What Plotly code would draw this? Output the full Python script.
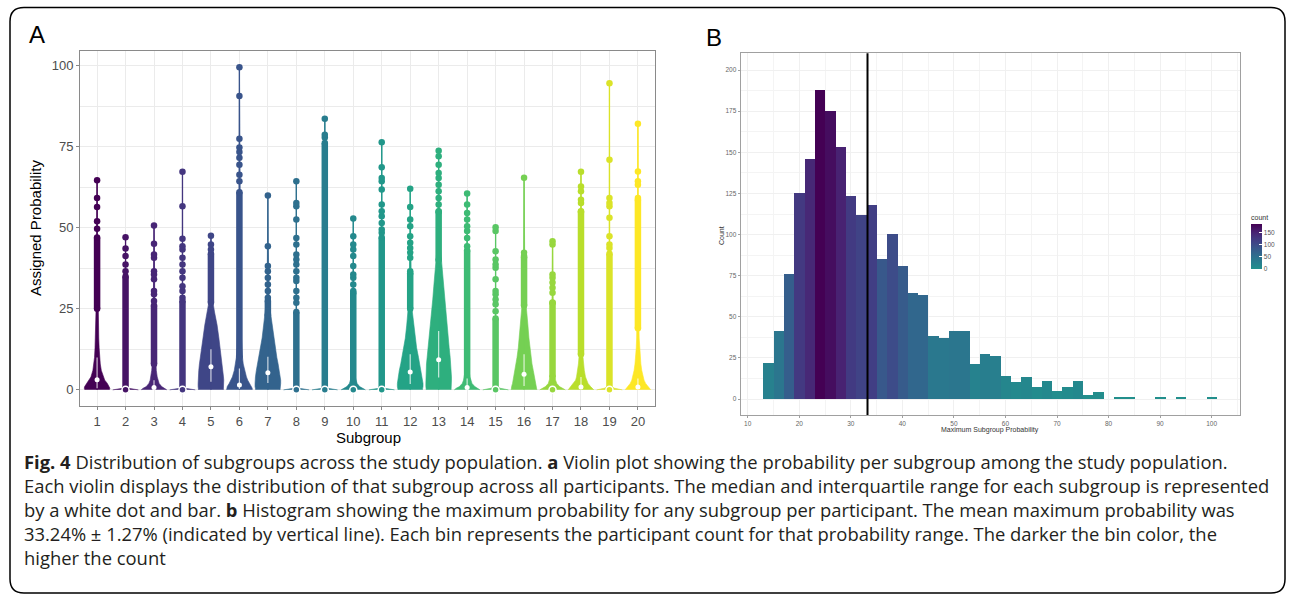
import plotly.graph_objects as go
from plotly.colors import sample_colorscale

W, H = 1290, 595

# ---------------- Panel A data ----------------
subgroups = list(range(1, 21))

# shared density levels (Assigned Probability) and relative half-widths per subgroup
prof_levels = [0, 0.5, 1, 2, 3, 4, 6, 8, 10, 13, 16, 20, 24, 28, 32, 36, 40, 45]
FLAT = [1.0, 0.2, 0.06, 0.04, 0.03, 0.03, 0.02, 0.02, 0.02, 0.02, 0.02, 0.02, 0.02, 0.02, 0.02, 0.02, 0.02, 0.02]
prof_widths = {
    1: [0.95, 1.0, 0.97, 0.8, 0.6, 0.48, 0.33, 0.25, 0.2, 0.16, 0.13, 0.1, 0.08, 0.06, 0.05, 0.04, 0.03, 0.02],
    2: FLAT,
    3: [1.0, 0.85, 0.6, 0.4, 0.3, 0.25, 0.18, 0.14, 0.12, 0.1, 0.08, 0.07, 0.06, 0.05, 0.04, 0.04, 0.03, 0.03],
    4: FLAT,
    5: [0.97, 1.0, 1.0, 1.0, 1.0, 0.98, 0.95, 0.9, 0.82, 0.72, 0.62, 0.48, 0.28, 0.12, 0.07, 0.05, 0.04, 0.03],
    6: [1.0, 1.0, 0.95, 0.8, 0.65, 0.55, 0.4, 0.3, 0.24, 0.19, 0.16, 0.13, 0.11, 0.09, 0.08, 0.07, 0.06, 0.05],
    7: [0.95, 1.0, 1.0, 1.0, 1.0, 0.97, 0.9, 0.8, 0.7, 0.56, 0.45, 0.33, 0.2, 0.1, 0.06, 0.05, 0.04, 0.03],
    8: FLAT,
    9: FLAT,
    10: [0.95, 0.7, 0.5, 0.3, 0.2, 0.15, 0.1, 0.08, 0.06, 0.05, 0.04, 0.04, 0.03, 0.03, 0.03, 0.02, 0.02, 0.02],
    11: FLAT,
    12: [0.95, 1.0, 1.0, 1.0, 0.97, 0.93, 0.85, 0.74, 0.65, 0.5, 0.38, 0.27, 0.17, 0.1, 0.07, 0.05, 0.04, 0.03],
    13: [0.97, 1.0, 1.0, 1.0, 1.0, 1.0, 0.98, 0.95, 0.9, 0.82, 0.74, 0.64, 0.55, 0.46, 0.38, 0.3, 0.22, 0.1],
    14: [1.0, 0.85, 0.6, 0.38, 0.28, 0.22, 0.15, 0.12, 0.1, 0.08, 0.07, 0.06, 0.05, 0.04, 0.04, 0.03, 0.03, 0.03],
    15: [1.0, 0.35, 0.12, 0.06, 0.04, 0.03, 0.03, 0.02, 0.02, 0.02, 0.02, 0.02, 0.02, 0.02, 0.02, 0.02, 0.02, 0.02],
    16: [1.0, 1.0, 0.97, 0.9, 0.85, 0.8, 0.72, 0.62, 0.55, 0.45, 0.38, 0.3, 0.23, 0.12, 0.07, 0.05, 0.04, 0.03],
    17: [1.0, 0.8, 0.55, 0.33, 0.24, 0.18, 0.12, 0.1, 0.08, 0.07, 0.06, 0.05, 0.04, 0.04, 0.03, 0.03, 0.03, 0.02],
    18: [1.0, 0.9, 0.75, 0.55, 0.42, 0.35, 0.26, 0.2, 0.16, 0.12, 0.1, 0.08, 0.07, 0.06, 0.05, 0.04, 0.04, 0.03],
    19: [1.0, 0.4, 0.15, 0.07, 0.05, 0.04, 0.03, 0.02, 0.02, 0.02, 0.02, 0.02, 0.02, 0.02, 0.02, 0.02, 0.02, 0.02],
    20: [1.0, 0.9, 0.78, 0.6, 0.48, 0.4, 0.3, 0.23, 0.18, 0.13, 0.1, 0.08, 0.06, 0.05, 0.04, 0.04, 0.03, 0.03],
}

# individual high values shown as dots
outlier_dots = {
    1: [49.7, 52.0, 56.4, 59.2, 64.7],
    2: [36.6, 38.7, 41.3, 43.6, 47.1],
    3: [27.4, 29.5, 30.5, 34.1, 35.6, 36.6, 40.8, 41.8, 45.1, 50.7],
    4: [28.4, 30.5, 32.0, 34.6, 36.6, 38.7, 40.8, 43.3, 44.3, 46.6, 56.7, 67.3],
    5: [43.3, 44.9, 47.6],
    6: [64.4, 66.4, 69.5, 71.6, 73.4, 74.8, 77.5, 90.7, 99.6],
    7: [28.4, 30.5, 32.5, 34.6, 36.6, 38.2, 44.3, 60.0],
    8: [26.9, 28.4, 30.5, 33.6, 34.6, 36.6, 38.7, 40.2, 41.8, 44.9, 46.9, 52.6, 56.7, 57.7, 64.4],
    9: [77.9, 78.7, 83.7],
    10: [30.5, 32.5, 34.6, 35.6, 38.2, 41.3, 43.3, 44.9, 47.4, 52.9],
    11: [48.5, 49.5, 51.5, 53.6, 55.1, 57.2, 61.8, 64.4, 65.4, 68.7, 76.4],
    12: [36.6, 40.8, 42.3, 43.8, 45.4, 47.4, 50.5, 52.6, 56.4, 62.1],
    13: [55.1, 57.2, 59.2, 61.3, 63.3, 65.4, 66.9, 69.5, 72.1, 73.8],
    14: [44.3, 46.9, 49.0, 50.5, 52.6, 54.6, 57.2, 60.6],
    15: [24.3, 26.4, 27.9, 29.5, 30.5, 34.1, 37.7, 38.7, 40.2, 42.8, 49.0, 50.2],
    16: [41.3, 42.3, 65.5],
    17: [26.9, 30.0, 31.5, 33.1, 34.6, 35.6, 44.9, 45.9],
    18: [55.1, 57.7, 58.7, 61.3, 62.8, 67.3],
    19: [43.8, 44.9, 47.4, 53.1, 56.7, 57.7, 59.2, 71.0, 94.6],
    20: [59.2, 63.3, 64.4, 67.4, 82.1],
}

# ranges where the dots merge into a solid column (low, high)
dense_runs = {
    1: (25, 47), 2: (0.5, 35), 3: (8, 26), 4: (0.5, 27.4), 5: (27, 42),
    6: (10, 61), 7: (23, 27.5), 8: (0.5, 24), 9: (0.5, 76.2), 10: (0.5, 30),
    11: (0.5, 47), 12: (25, 36), 13: (40, 55), 14: (3, 43), 15: (0.5, 22),
    16: (26, 41), 17: (4, 27), 18: (11, 55), 19: (0.5, 42), 20: (19, 58.7),
}

medians = [3.1, 0, 0.7, 0, 7.1, 1.5, 5.3, 0, 0, 0, 0, 5.5, 9.3, 0.7, 0, 4.8, 0, 0.9, 0, 0.9]
q1s = [0.5, 0, 0.1, 0, 2.5, 0.3, 2.1, 0, 0, 0, 0, 1.8, 3.8, 0.1, 0, 1.2, 0, 0.2, 0, 0.2]
q3s = [10.0, 0, 3.0, 0, 12.5, 6.6, 10.2, 0, 0, 0, 0, 11.0, 18.2, 3.5, 0, 11.0, 0, 4.0, 0, 3.5]

# ---------------- Panel B data ----------------
hist_bin_left = [13, 15, 17, 19, 21, 23, 25, 27, 29, 31, 33, 35, 37, 39, 41, 43, 45, 47, 49, 51, 53, 55,
                 57, 59, 61, 63, 65, 67, 69, 71, 73, 75, 77, 79, 81, 83, 85, 87, 89, 91, 93, 95, 97, 99]
hist_counts = [22, 41, 76, 125, 146, 188, 175, 153, 123, 112, 118, 85, 100, 81, 64, 63, 38, 37, 41, 41, 21, 27,
               26, 14, 10, 13, 7, 11, 5, 7, 11, 2, 4, 0, 1, 1, 0, 0, 1, 0, 1, 0, 0, 1]
bin_width = 2
mean_max_prob = 33.24
hist_xticks = [10, 20, 30, 40, 50, 60, 70, 80, 90, 100]
hist_yticks = [0, 25, 50, 75, 100, 125, 150, 175, 200]
cbar_ticks = [0, 50, 100, 150]

caption_lines = [
    "<b>Fig. 4</b> Distribution of subgroups across the study population. <b>a</b> Violin plot showing the probability per subgroup among the study population.",
    "Each violin displays the distribution of that subgroup across all participants. The median and interquartile range for each subgroup is represented",
    "by a white dot and bar. <b>b</b> Histogram showing the maximum probability for any subgroup per participant. The mean maximum probability was",
    "33.24% \u00b1 1.27% (indicated by vertical line). Each bin represents the participant count for that probability range. The darker the bin color, the",
    "higher the count",
]

# ---------------- build figure ----------------
def X(px):
    return px / W


def Y(py):
    return 1 - py / H


colors = sample_colorscale("Viridis", [i / 19 for i in range(20)])
fig = go.Figure()
HW = 0.45

for i, g in enumerate(subgroups):
    c = colors[i]
    ws = prof_widths[g]
    ymax = max(outlier_dots[g])
    lev = prof_levels + [ymax]
    wv = ws + [0]
    xs = [g - HW * w for w in wv] + [g + HW * w for w in reversed(wv)]
    ys = lev + list(reversed(lev))
    fig.add_trace(go.Scatter(x=xs, y=ys, fill="toself", fillcolor=c, mode="lines",
                             line=dict(color=c, width=0.6), xaxis="x", yaxis="y", hoverinfo="skip"))
    fig.add_trace(go.Scatter(x=[g, g], y=[0, ymax], mode="lines", line=dict(color=c, width=1.3),
                             xaxis="x", yaxis="y", hoverinfo="skip"))
    lo, hi = dense_runs[g]
    fig.add_trace(go.Scatter(x=[g, g], y=[lo, hi], mode="lines+markers", line=dict(color=c, width=6.5),
                             marker=dict(color=c, size=6.5), xaxis="x", yaxis="y", hoverinfo="skip"))
    fig.add_trace(go.Scatter(x=[g] * len(outlier_dots[g]), y=outlier_dots[g], mode="markers",
                             marker=dict(color=c, size=6.5), xaxis="x", yaxis="y", hoverinfo="skip"))
    if q3s[i] > q1s[i]:
        fig.add_trace(go.Scatter(x=[g, g], y=[q1s[i], q3s[i]], mode="lines",
                                 line=dict(color="rgba(255,255,255,0.75)", width=1.2),
                                 xaxis="x", yaxis="y", hoverinfo="skip"))
    if medians[i] > 0:
        mk = dict(color="white", size=5)
    else:
        mk = dict(color=c, size=7, line=dict(color="white", width=1.5))
    fig.add_trace(go.Scatter(x=[g], y=[medians[i]], mode="markers", marker=mk,
                             xaxis="x", yaxis="y", hoverinfo="skip"))

# histogram
cs = [[t / 10, sample_colorscale("Viridis", [0.5 * (1 - t / 10)])[0]] for t in range(11)]
fig.add_trace(go.Bar(
    x=hist_bin_left, y=hist_counts, width=bin_width, offset=0, xaxis="x2", yaxis="y2",
    marker=dict(color=hist_counts, colorscale=cs, cmin=0, cmax=max(hist_counts), line=dict(width=0),
                showscale=True,
                colorbar=dict(x=X(1251), xanchor="left", y=Y(240), yanchor="middle",
                              len=56.6, lenmode="pixels", thickness=11, thicknessmode="pixels",
                              outlinewidth=0, xpad=0, ypad=0,
                              ticks="inside", tickcolor="white", ticklen=3,
                              tickvals=cbar_ticks, tickfont=dict(size=6.5, color="#555",
                                                                 family="Liberation Sans"),
                              title=dict(text="count", side="top",
                                         font=dict(size=7, color="#333", family="Liberation Sans"))),
                ),
    hoverinfo="skip"))

ymax_all = max(max(v) for v in outlier_dots.values())
span = ymax_all

grid = "#ebebeb"
axA = dict(showline=True, mirror=True, linecolor="#8a8a8a", linewidth=1, ticks="outside", ticklen=3,
           tickcolor="#8a8a8a", showgrid=True, gridcolor=grid, gridwidth=1.1, zeroline=False,
           tickfont=dict(size=13, color="#4d4d4d", family="Liberation Sans"))
fig.update_layout(
    width=W, height=H, margin=dict(l=0, r=0, t=0, b=0, autoexpand=False),
    paper_bgcolor="white", plot_bgcolor="white", showlegend=False, bargap=0,
    xaxis=dict(domain=[X(80), X(655)], range=[0.4, 20.6], tickvals=subgroups,
               ticktext=[str(s) for s in subgroups], anchor="y", **axA),
    yaxis=dict(domain=[Y(406), Y(51)], range=[-0.05 * span, ymax_all + 0.05 * span],
               tickvals=[0, 25, 50, 75, 100], anchor="x",
               minor=dict(dtick=12.5, tick0=0, showgrid=True, gridcolor=grid, gridwidth=0.6, ticks=""),
               **axA),
    xaxis2=dict(domain=[X(740.7), X(1240)], range=[8.64, 105.5], tickvals=hist_xticks, anchor="y2",
                showline=True, mirror=True, linecolor="#a0a0a0", linewidth=1.2, ticks="outside",
                ticklen=2, tickcolor="#a0a0a0", showgrid=True, gridcolor="#f0f0f0", gridwidth=0.8,
                zeroline=False, minor=dict(dtick=5, showgrid=True, gridcolor="#f4f4f4", gridwidth=0.5),
                tickfont=dict(size=6.5, color="#666", family="Liberation Sans")),
    yaxis2=dict(domain=[Y(415), Y(53.3)], range=[-9.7, 210.2], tickvals=hist_yticks, anchor="x2",
                showline=True, mirror=True, linecolor="#a0a0a0", linewidth=1.2, ticks="outside",
                ticklen=2, tickcolor="#a0a0a0", showgrid=True, gridcolor="#f0f0f0", gridwidth=0.8,
                zeroline=False, minor=dict(dtick=12.5, showgrid=True, gridcolor="#f4f4f4", gridwidth=0.5),
                tickfont=dict(size=6.5, color="#666", family="Liberation Sans")),
)

# mean line
fig.add_shape(type="line", xref="x2", yref="y2 domain", x0=mean_max_prob, x1=mean_max_prob, y0=0, y1=1,
              line=dict(color="black", width=2))

# rounded outer frame
x0, x1, y0, y1, r = 10, 1285, 7.5, 593, 14
path = (f"M {X(x0 + r)},{Y(y0)} L {X(x1 - r)},{Y(y0)} Q {X(x1)},{Y(y0)} {X(x1)},{Y(y0 + r)} "
        f"L {X(x1)},{Y(y1 - r)} Q {X(x1)},{Y(y1)} {X(x1 - r)},{Y(y1)} L {X(x0 + r)},{Y(y1)} "
        f"Q {X(x0)},{Y(y1)} {X(x0)},{Y(y1 - r)} L {X(x0)},{Y(y0 + r)} Q {X(x0)},{Y(y0)} {X(x0 + r)},{Y(y0)} Z")
fig.add_shape(type="path", xref="paper", yref="paper", path=path, line=dict(color="black", width=1.5))

ann = []
ann.append(dict(text="A", x=X(37), y=Y(34), font=dict(size=24, color="black", family="Liberation Sans")))
ann.append(dict(text="B", x=X(714), y=Y(37), font=dict(size=24, color="black", family="Liberation Sans")))
ann.append(dict(text="Assigned Probability", x=X(36), y=Y(228), textangle=-90,
                font=dict(size=15, color="black", family="Liberation Sans")))
ann.append(dict(text="Subgroup", x=X(368), y=Y(437), font=dict(size=15, color="black", family="Liberation Sans")))
ann.append(dict(text="Count", x=X(722), y=Y(235), textangle=-90,
                font=dict(size=7, color="#333", family="Liberation Sans")))
ann.append(dict(text="Maximum Subgroup Probability", x=X(990), y=Y(430),
                font=dict(size=7, color="#333", family="Liberation Sans")))
for k, line in enumerate(caption_lines):
    ann.append(dict(text=line, x=X(22), y=Y(461 + 24.2 * k), xanchor="left",
                    font=dict(size=18.4, color="#231f20", family="Open Sans")))
for a in ann:
    a.setdefault("xanchor", "center")
    a.update(xref="paper", yref="paper", yanchor="middle", showarrow=False)
fig.update_layout(annotations=ann)

fig.write_html("out.html", config={"displayModeBar": False},
               post_script="document.body.style.margin='0px';")
